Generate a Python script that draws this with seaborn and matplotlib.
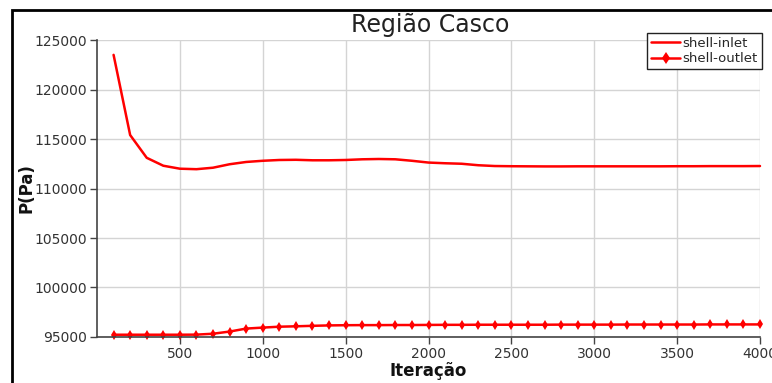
import numpy as np
import pandas as pd
import seaborn as sns
import matplotlib
matplotlib.use("Agg")
import matplotlib.pyplot as plt
from matplotlib.patches import Rectangle
from matplotlib.lines import Line2D

# Iterations sampled every 100 steps
iteracoes = list(range(100, 4100, 100))

shell_inlet = [
    123500, 115400, 113100, 112300, 112000, 111950, 112100, 112450, 112680, 112800,
    112880, 112900, 112850, 112850, 112880, 112950, 112980, 112950, 112800, 112620,
    112550, 112500, 112350, 112270, 112250, 112240, 112230, 112230, 112240, 112240,
    112240, 112240, 112240, 112240, 112250, 112250, 112260, 112260, 112260, 112270,
]

shell_outlet = [
    95230, 95230, 95230, 95230, 95230, 95240, 95330, 95550, 95850, 95950,
    96040, 96080, 96130, 96170, 96190, 96200, 96200, 96210, 96210, 96220,
    96230, 96230, 96240, 96240, 96240, 96240, 96240, 96250, 96250, 96250,
    96250, 96260, 96260, 96260, 96260, 96260, 96270, 96270, 96270, 96270,
]

series_names = ["shell-inlet", "shell-outlet"]
y_ticks = [95000, 100000, 105000, 110000, 115000, 120000, 125000]
x_ticks = [500, 1000, 1500, 2000, 2500, 3000, 3500, 4000]

df_in = pd.DataFrame({"Iteração": iteracoes, "P(Pa)": shell_inlet})
df_out = pd.DataFrame({"Iteração": iteracoes, "P(Pa)": shell_outlet})

sns.set_theme(style="whitegrid")
plt.rcParams["font.family"] = ["DejaVu Sans"]

fig = plt.figure(figsize=(7.72, 3.83), dpi=100)
ax = fig.add_axes([97 / 772, 1 - 337 / 383, (760 - 97) / 772, (337 - 40) / 383])

sns.lineplot(data=df_in, x="Iteração", y="P(Pa)", color="#ff0000",
             linewidth=1.8, ax=ax, clip_on=False)
sns.lineplot(data=df_out, x="Iteração", y="P(Pa)", color="#ff0000",
             linewidth=1.8, marker="d", markersize=5, markeredgewidth=0,
             ax=ax, clip_on=False)

ax.set_xlim(0, 4000)
ax.set_ylim(95000, 125000)
ax.set_xticks(x_ticks)
ax.set_yticks(y_ticks)
ax.grid(True, color="#d4d4d4", linewidth=1.0)
ax.tick_params(axis="both", which="major", labelsize=10, labelcolor="#333333",
               length=5, width=1, color="#444444", direction="out",
               left=True, bottom=True, pad=2)
for side in ("top", "right"):
    ax.spines[side].set_visible(False)
for side in ("left", "bottom"):
    ax.spines[side].set_color("#444444")
    ax.spines[side].set_linewidth(1.2)

ax.set_xlabel("Iteração", fontsize=12, fontweight="bold", color="#111111", labelpad=1)
ax.set_ylabel("P(Pa)", fontsize=12, fontweight="bold", color="#111111")
ax.yaxis.set_label_coords(-0.093, 0.5)
fig.text(430 / 772, 1 - 25 / 383, "Região Casco", fontsize=17, color="#222222",
         ha="center", va="center")

handles = [
    Line2D([0], [0], color="#ff0000", lw=1.8),
    Line2D([0], [0], color="#ff0000", lw=1.8, marker="d", markersize=6, markeredgewidth=0),
]
leg = ax.legend(handles, series_names, loc="upper right", bbox_to_anchor=(1.003, 1.025),
                fontsize=9.5, frameon=True, fancybox=False, handlelength=2.2,
                handletextpad=0.2, borderpad=0.3, labelspacing=0.2, borderaxespad=0)
leg.get_frame().set_edgecolor("#222222")
leg.get_frame().set_linewidth(1.0)
leg.get_frame().set_alpha(1)

# Outer frame around the chart
fig.add_artist(Rectangle((12 / 772, -0.1), 1.2, 1 - 10 / 383 + 0.1,
                         transform=fig.transFigure, fill=False,
                         edgecolor="black", linewidth=2))

fig.savefig("out.png", dpi=100)
